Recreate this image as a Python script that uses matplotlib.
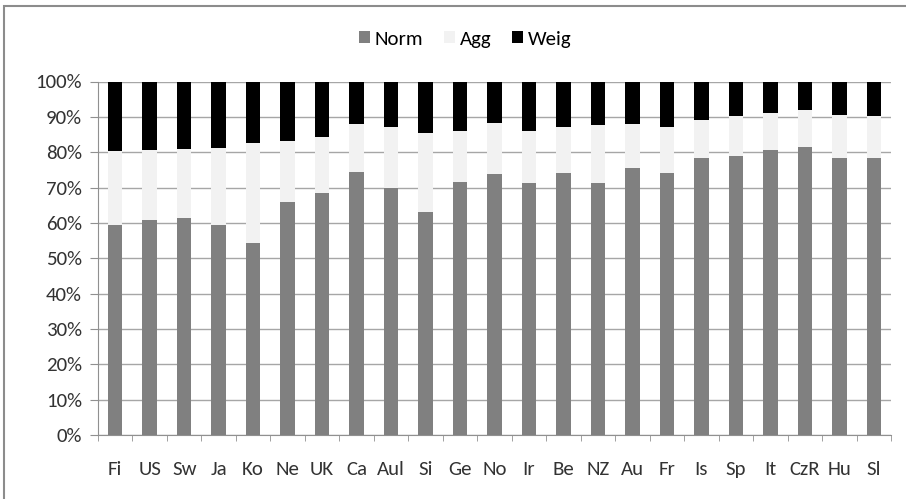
import matplotlib
matplotlib.use("Agg")
import matplotlib.pyplot as plt
import numpy as np
from matplotlib.patches import Rectangle
from matplotlib.ticker import PercentFormatter, FixedLocator

countries = ["Fi", "US", "Sw", "Ja", "Ko", "Ne", "UK", "Ca", "Aul", "Si", "Ge", "No",
             "Ir", "Be", "NZ", "Au", "Fr", "Is", "Sp", "It", "CzR", "Hu", "Sl"]
# shares in percent; Norm + Agg + Weig = 100
norm = [59.4, 60.9, 61.5, 59.4, 54.3, 65.9, 68.4, 74.5, 69.8, 63.2, 71.5, 73.7,
        71.2, 74.2, 71.2, 75.5, 74.2, 78.3, 79.0, 80.5, 81.6, 78.3, 78.3]
norm_agg = [80.2, 80.5, 81.0, 81.3, 82.6, 83.3, 84.4, 87.9, 87.1, 85.4, 85.9, 88.2,
            85.9, 87.1, 87.7, 88.0, 87.1, 89.2, 90.1, 91.2, 91.8, 90.6, 90.1]

agg = [b - a for a, b in zip(norm, norm_agg)]
weig = [100 - b for b in norm_agg]

plt.rcParams["font.family"] = ["Carlito", "DejaVu Sans"]
FS = 15

fig = plt.figure(figsize=(9.06, 4.99), dpi=100)
ax = fig.add_axes([98 / 906, 1 - 435 / 499, 793 / 906, 353.5 / 499])

x = np.arange(len(countries))
w = 0.42
ax.bar(x, norm, w, color="#808080", label="Norm", zorder=3)
ax.bar(x, agg, w, bottom=norm, color="#f2f2f2", label="Agg", zorder=3)
ax.bar(x, weig, w, bottom=norm_agg, color="#000000", label="Weig", zorder=3)

ax.set_xlim(-0.5, len(countries) - 0.5)
ax.set_ylim(0, 100)
ax.yaxis.set_major_locator(FixedLocator(np.arange(0, 101, 10)))
ax.yaxis.set_major_formatter(PercentFormatter(decimals=0))
ax.grid(axis="y", color="#a6a6a6", lw=1.0, zorder=0)

ax.set_xticks(x)
ax.set_xticklabels(countries)
ax.set_xticks(np.arange(-0.5, len(countries), 1), minor=True)
ax.tick_params(axis="x", which="major", length=0, pad=19, labelsize=FS, labelcolor="#333333")
ax.tick_params(axis="x", which="minor", length=4.5, color="#909090")
ax.tick_params(axis="y", length=5.5, color="#909090", labelsize=FS, labelcolor="#333333", pad=6)

for side in ("top", "right"):
    ax.spines[side].set_visible(False)
for side in ("left", "bottom"):
    ax.spines[side].set_color("#909090")

ax.legend(loc="center", bbox_to_anchor=((465 - 98) / 793, 1.12),
          ncol=3, frameon=False, fontsize=FS, handlelength=0.55, handleheight=0.55,
          handletextpad=0.2, columnspacing=1.0, borderaxespad=0)

# grey frame around the whole chart
fig.patches.append(Rectangle((4 / 906, -0.1), 1.2, 1 - 6 / 499 + 0.1,
                             transform=fig.transFigure, fill=False,
                             edgecolor="#8c8c8c", lw=1.5))

fig.savefig("out.png", dpi=100)
